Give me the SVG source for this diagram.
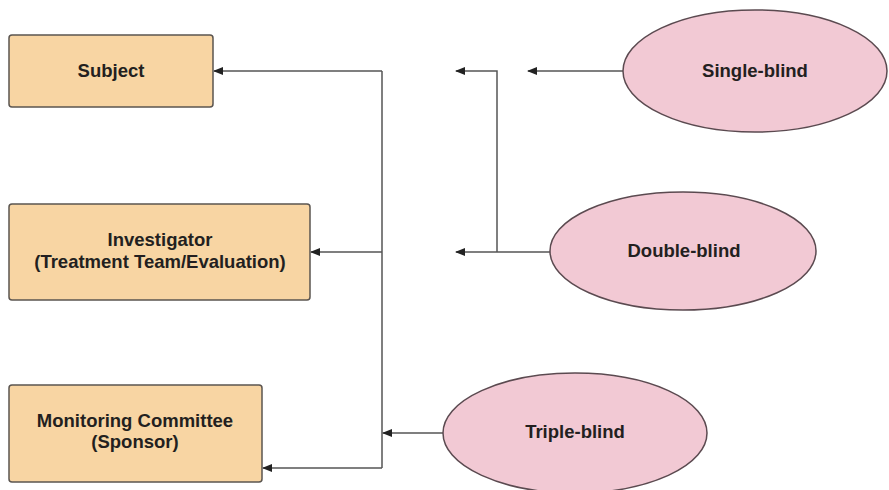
<svg xmlns="http://www.w3.org/2000/svg" width="889" height="490" viewBox="0 0 889 490">
<defs>
<style>
.box{fill:#f8d5a3;stroke:#5b5550;stroke-width:1.5}
.ell{fill:#f2c9d4;stroke:#5b4a50;stroke-width:1.5}
.t{font-family:"Liberation Sans",Arial,sans-serif;font-weight:bold;font-size:18.5px;fill:#231f20;text-anchor:middle}
.c{fill:none;stroke:#555;stroke-width:1.5}
</style>
<marker id="ah" markerWidth="10" markerHeight="8" refX="9" refY="4" orient="auto" markerUnits="userSpaceOnUse">
<path d="M0,0 L10,4 L0,8 z" fill="#222"/>
</marker>
</defs>
<rect width="889" height="490" fill="#fff"/>
<g id="connectors">
<path class="c" d="M382,71 H214" marker-end="url(#ah)"/>
<path class="c" d="M382,71 V468"/>
<path class="c" d="M382,252 H311" marker-end="url(#ah)"/>
<path class="c" d="M382,468 H263" marker-end="url(#ah)"/>
<path class="c" d="M443,433 H383" marker-end="url(#ah)"/>
<path class="c" d="M623,71 H528" marker-end="url(#ah)"/>
<path class="c" d="M497,252 V71 H456" marker-end="url(#ah)"/>
<path class="c" d="M550,252 H456" marker-end="url(#ah)"/>
</g>
<g id="subject">
<rect class="box" x="9" y="35" width="204" height="72" rx="3"/>
<text class="t" x="111" y="77">Subject</text>
</g>
<g id="investigator">
<rect class="box" x="9" y="204" width="301" height="96" rx="3"/>
<text class="t" x="160" y="246">Investigator</text>
<text class="t" x="160" y="268">(Treatment Team/Evaluation)</text>
</g>
<g id="monitoring">
<rect class="box" x="9" y="385" width="253" height="97" rx="3"/>
<text class="t" x="135" y="427">Monitoring Committee</text>
<text class="t" x="135" y="448">(Sponsor)</text>
</g>
<g id="single-blind">
<ellipse class="ell" cx="755" cy="71" rx="132" ry="61"/>
<text class="t" x="755" y="77">Single-blind</text>
</g>
<g id="double-blind">
<ellipse class="ell" cx="683" cy="251" rx="133" ry="59"/>
<text class="t" x="684" y="257">Double-blind</text>
</g>
<g id="triple-blind">
<ellipse class="ell" cx="575" cy="433" rx="132" ry="60"/>
<text class="t" x="575" y="438">Triple-blind</text>
</g>
</svg>
